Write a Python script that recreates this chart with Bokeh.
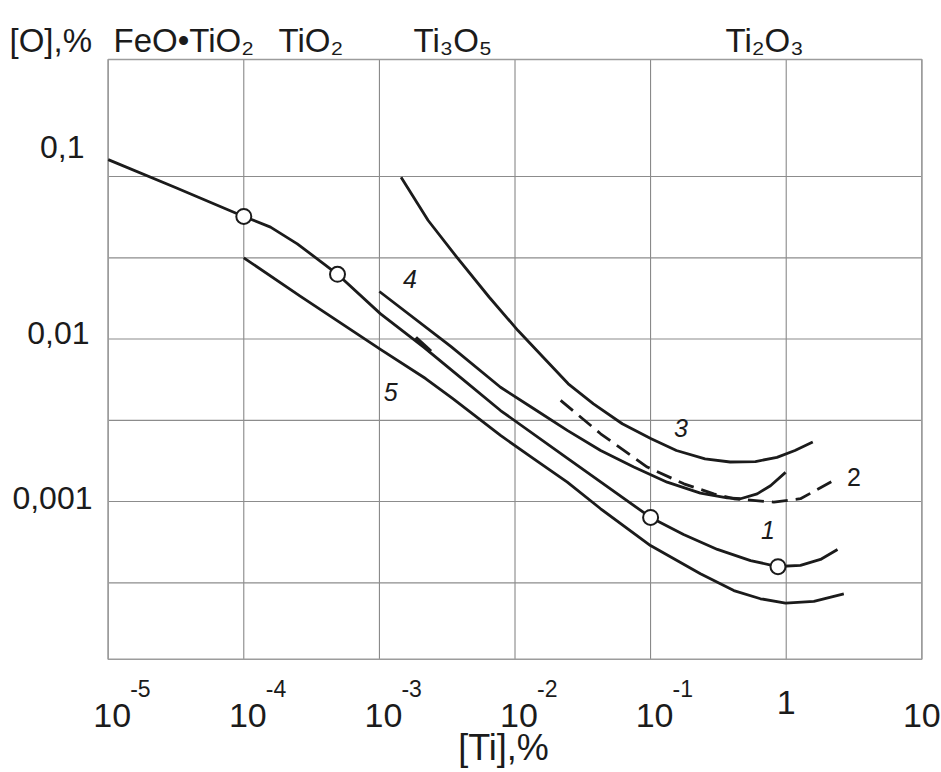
from bokeh.plotting import figure
from bokeh.models import Label, Range1d
from bokeh.embed import file_html
from bokeh.resources import INLINE

# ---------------- data ----------------
# curve 1 (with circles)
c1_ti = [1.0e-5, 3.13e-5, 1.0e-4, 1.574e-4, 2.48e-4, 3.89e-4, 4.91e-4, 1.02e-3, 2.12e-3,
         4.08e-3, 7.82e-3, 2.44e-2, 0.1, 0.175, 0.311, 0.546, 0.863, 1.274, 1.79, 2.39]
c1_o = [0.127, 0.0855, 0.0568, 0.0488, 0.0385, 0.0290, 0.0250, 0.01428, 8.91e-3,
        5.69e-3, 3.63e-3, 1.84e-3, 7.98e-4, 6.27e-4, 5.07e-4, 4.33e-4, 3.98e-4, 4.04e-4,
        4.40e-4, 5.07e-4]
# circle markers on curve 1
pts_ti = [1.0e-4, 4.91e-4, 0.1, 0.87]
pts_o = [0.0568, 0.0250, 7.98e-4, 3.97e-4]
# curve 2 (dashed)
c2_ti = [0.0217, 0.0428, 0.0944, 0.176, 0.292, 0.411, 0.811, 1.274, 2.24]
c2_o = [4.19e-3, 2.61e-3, 1.63e-3, 1.285e-3, 1.114e-3, 1.04e-3, 9.91e-4, 1.04e-3, 1.346e-3]
# curve 3
c3_ti = [1.445e-3, 2.29e-3, 3.72e-3, 6.46e-3, 1.052e-2, 1.614e-2, 2.47e-2, 3.79e-2,
         6.18e-2, 0.101, 0.155, 0.252, 0.386, 0.593, 0.855, 1.16, 1.57]
c3_o = [0.099, 0.0536, 0.0319, 0.01807, 0.01127, 7.73e-3, 5.30e-3, 3.99e-3,
        3.01e-3, 2.43e-3, 2.06e-3, 1.83e-3, 1.75e-3, 1.76e-3, 1.87e-3, 2.06e-3, 2.32e-3]
# curve 4
c4_ti = [1.0e-3, 3.36e-3, 7.82e-3, 1.377e-2, 2.43e-2, 4.28e-2, 7.52e-2, 0.1324,
         0.233, 0.367, 0.46, 0.611, 0.766, 0.989]
c4_o = [0.0196, 9.0e-3, 5.05e-3, 3.72e-3, 2.74e-3, 2.06e-3, 1.63e-3, 1.315e-3,
        1.125e-3, 1.054e-3, 1.04e-3, 1.114e-3, 1.25e-3, 1.51e-3]
# curve 5
c5_ti = [1.0e-4, 2.62e-4, 1.038e-3, 2.19e-3, 3.46e-3, 7.82e-3, 1.377e-2, 2.43e-2,
         4.28e-2, 0.0998, 0.233, 0.411, 0.646, 0.989, 1.6, 2.66]
c5_o = [0.0316, 0.0183, 8.55e-3, 5.71e-3, 4.31e-3, 2.55e-3, 1.83e-3, 1.315e-3,
        9.02e-4, 5.36e-4, 3.59e-4, 2.83e-4, 2.52e-4, 2.37e-4, 2.43e-4, 2.70e-4]
# small arrow mark on curve 1
arrow_ti = [1.85e-3, 2.39e-3]
arrow_o = [0.0102, 8.38e-3]

# curve numbers
num_text = ["1", "2", "3", "4", "5"]
num_ti = [0.735, 3.16, 0.1675, 1.68e-3, 1.21e-3]
num_o = [6.64e-4, 1.41e-3, 2.85e-3, 0.0235, 4.69e-3]
num_italic = [True, False, True, True, True]

# axes
x_ticks = [1e-5, 1e-4, 1e-3, 1e-2, 1e-1, 1, 10]
x_base = ["10", "10", "10", "10", "10", "1", "10"]
x_exp = ["-5", "-4", "-3", "-2", "-1", "", ""]
y_ticks = [0.1, 0.01, 0.001]
y_labels = ["0,1", "0,01", "0,001"]
y_grid = [3.16e-4, 1e-3, 3.16e-3, 1e-2, 3.16e-2, 0.1]
x_lim = (1e-5, 10)          # plotted Ti range (box)
y_lim = (1.07e-4, 0.525)    # plotted O range (box)

# phase labels above the plot
phase_text = ["[O],%", "FeO\u2022TiO\u2082", "TiO\u2082", "Ti\u2083O\u2085", "Ti\u2082O\u2083"]
x_title = "[Ti],%"

# ---------------- layout / scales ----------------
W, H = 941, 772
PX_X0, PX_DEC_X = 107.7, 135.6     # page x of 1e-5, pixels per decade
PY_Y0, PX_DEC_Y = 176.0, 162.5     # page y of 0.1, pixels per decade
xr = Range1d(10 ** (-5 - PX_X0 / PX_DEC_X), 10 ** (-5 + (W - PX_X0) / PX_DEC_X))
yr = Range1d(10 ** (-1 - (H - PY_Y0) / PX_DEC_Y), 10 ** (-1 + PY_Y0 / PX_DEC_Y))

FONT = "Liberation Sans"
INK = "#1b1b1b"

p = figure(x_axis_type="log", y_axis_type="log", x_range=xr, y_range=yr,
           width=W, height=H, min_border=0,
           output_backend="svg", toolbar_location=None,
           background_fill_color="white", border_fill_color="white")
p.xaxis.visible = False
p.yaxis.visible = False
p.xgrid.visible = False
p.ygrid.visible = False
p.outline_line_color = None
p.title.visible = False

# grid lines and box
n_x = len(x_ticks)
p.segment(x0=x_ticks, y0=[y_lim[0]] * n_x, x1=x_ticks, y1=[y_lim[1]] * n_x,
          line_color="#7d7d7d", line_width=1)
n_y = len(y_grid)
p.segment(x0=[x_lim[0]] * n_y, y0=y_grid, x1=[x_lim[1]] * n_y, y1=y_grid,
          line_color="#8c8c8c", line_width=1.2)
p.quad(left=[x_lim[0]], right=[x_lim[1]], bottom=[y_lim[0]], top=[y_lim[1]],
       fill_color=None, line_color="#9c9c9c", line_width=1.6)

lw = 2.8
p.line(c1_ti, c1_o, line_color=INK, line_width=lw, line_join="round")
p.line(c2_ti, c2_o, line_color=INK, line_width=lw, line_dash="16 8")
p.line(c3_ti, c3_o, line_color=INK, line_width=lw, line_join="round")
p.line(c4_ti, c4_o, line_color=INK, line_width=lw, line_join="round")
p.line(c5_ti, c5_o, line_color=INK, line_width=lw, line_join="round")
p.line(arrow_ti, arrow_o, line_color=INK, line_width=4)
p.scatter(pts_ti, pts_o, marker="circle", size=15, fill_color="white",
          line_color=INK, line_width=2)

for t, xv, yv, it in zip(num_text, num_ti, num_o, num_italic):
    p.add_layout(Label(x=xv, y=yv, text=t, text_font=FONT, text_font_size="25px",
                       text_font_style="italic" if it else "normal",
                       text_color=INK, text_align="center", text_baseline="middle"))

# x tick labels: "10" with raised exponent
for xv, b, e in zip(x_ticks, x_base, x_exp):
    p.add_layout(Label(x=xv, y=y_lim[0], text=b, text_font=FONT, text_font_size="34px",
                       text_color=INK, text_align="center", text_baseline="alphabetic",
                       x_offset=4 if e else 0, y_offset=-43 if b == "1" else -56))
    if e:
        p.add_layout(Label(x=xv, y=y_lim[0], text=e, text_font=FONT, text_font_size="23px",
                           text_color=INK, text_align="left", text_baseline="alphabetic",
                           x_offset=22, y_offset=-29))

# y tick labels
y_off = [30, 6, 4]
y_xoff = [-6, -1, 2]
for yv, t, off, xo in zip(y_ticks, y_labels, y_off, y_xoff):
    p.add_layout(Label(x=90, y=yv, x_units="screen", text=t, text_font=FONT,
                       text_font_size="32px", text_color=INK, text_align="right",
                       text_baseline="middle", x_offset=xo, y_offset=off))

# phase labels (screen coordinates: x from left, y from bottom)
phase_x = [9, 113, 278, 413, 725]
for t, xs in zip(phase_text, phase_x):
    p.add_layout(Label(x=xs, y=H - 40, x_units="screen", y_units="screen", text=t,
                       text_font=FONT, text_font_size="33px", text_color=INK,
                       text_align="left", text_baseline="alphabetic"))

p.add_layout(Label(x=503, y=25, x_units="screen", y_units="screen", text=x_title,
                   text_font=FONT, text_font_size="36px", text_color=INK,
                   text_align="center", text_baseline="alphabetic"))

open("out.html", "w").write(file_html(p, INLINE))
